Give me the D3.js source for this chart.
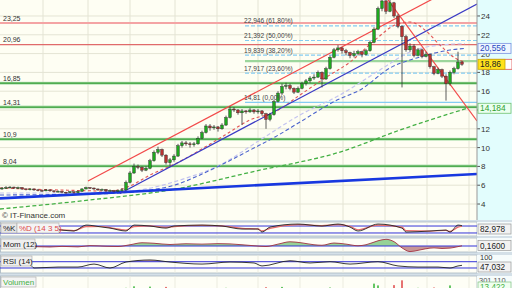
<!DOCTYPE html>
<html>
<head>
<meta charset="utf-8">
<script src="https://cdn.jsdelivr.net/npm/d3@7"></script>
<style>
  body { margin: 0; background: #fff; }
  svg { display: block; font-family: "Liberation Sans", Arial, sans-serif; }
</style>
</head>
<body>
<svg width="512" height="288"></svg>
<script>
// daily candles [open, high, low, close]
const candles = [
  [5.6,5.8,5.5,5.7],[5.7,5.9,5.6,5.75],[5.75,5.9,5.65,5.8],[5.8,5.85,5.6,5.7],[5.7,5.85,5.6,5.75],
  [5.75,5.8,5.5,5.6],[5.6,5.7,5.45,5.55],[5.55,5.7,5.45,5.6],[5.6,5.65,5.4,5.5],[5.5,5.6,5.35,5.45],
  [5.45,5.55,5.3,5.4],[5.4,5.6,5.35,5.5],[5.5,5.55,5.3,5.4],[5.4,5.45,5.2,5.3],[5.3,5.45,5.25,5.35],
  [5.35,5.4,5.15,5.25],[5.25,5.3,5.1,5.2],[5.2,5.4,5.15,5.3],[5.3,5.35,5.1,5.2],[5.2,5.45,5.15,5.35],
  [5.35,5.7,5.3,5.6],[5.6,5.85,5.55,5.75],[5.75,5.8,5.6,5.7],[5.7,5.75,5.5,5.6],[5.6,5.65,5.4,5.5],
  [5.5,5.65,5.45,5.55],[5.55,5.6,5.3,5.4],[5.4,5.55,5.35,5.45],[5.45,5.5,5.25,5.35],[5.35,5.55,5.3,5.45],
  [5.45,5.7,5.35,5.5],[5.5,6.5,5.45,6.3],[6.3,7.5,6.2,7.3],[7.3,8.3,7.2,8.0],[8.0,8.2,7.7,7.9],
  [7.9,8.0,7.4,7.6],[7.6,8.0,7.5,7.8],[7.8,8.8,7.7,8.6],[8.6,9.7,8.5,9.5],[9.5,10.1,9.3,9.8],
  [9.8,9.9,9.0,9.2],[9.2,9.3,8.2,8.4],[8.4,8.9,8.0,8.7],[8.7,9.3,8.5,9.1],[9.1,10.4,9.0,10.2],
  [10.2,10.7,10.0,10.5],[10.5,10.7,10.2,10.4],[10.4,10.6,10.0,10.3],[10.3,10.6,10.1,10.4],[10.4,11.2,10.3,11.0],
  [11.0,11.8,10.9,11.6],[11.6,12.5,11.5,12.3],[12.3,12.5,11.8,12.1],[12.1,12.4,11.9,12.2],[12.2,12.3,11.7,12.0],
  [12.0,12.6,11.9,12.4],[12.4,13.4,12.3,13.2],[13.2,14.4,13.1,14.1],[14.1,14.3,13.8,14.0],[14.0,14.1,13.5,13.7],
  [13.7,14.1,12.4,13.9],[13.9,14.0,13.6,13.8],[13.8,14.2,13.7,14.0],[14.0,14.1,13.6,13.8],[13.8,14.1,13.6,13.9],
  [13.9,14.0,13.4,13.6],[13.6,13.7,12.0,13.0],[13.0,13.7,12.8,13.5],[13.5,15.1,13.4,14.9],[14.9,16.0,14.8,15.8],
  [15.8,16.8,15.6,16.5],[16.5,16.9,16.2,16.6],[16.6,16.8,16.1,16.3],[16.3,16.4,15.7,15.9],[15.9,16.5,15.8,16.3],
  [16.3,17.0,16.2,16.8],[16.8,17.3,16.6,17.1],[17.1,17.6,16.9,17.4],[17.4,17.8,17.2,17.5],[17.5,18.2,17.4,18.0],
  [18.0,18.1,16.4,17.3],[17.3,18.6,17.2,18.4],[18.4,19.8,18.3,19.6],[19.6,20.6,19.5,20.4],[20.4,20.9,20.2,20.6],
  [20.6,20.7,20.0,20.3],[20.3,20.5,19.8,20.1],[20.1,20.2,19.5,19.8],[19.8,20.3,19.6,20.0],[20.0,20.4,19.8,20.2],
  [20.2,20.3,19.6,19.9],[19.9,20.5,19.8,20.3],[20.3,21.4,20.2,21.2],[21.2,22.8,21.1,22.6],[22.6,25.0,22.5,24.8],
  [24.8,25.9,24.5,25.6],[25.6,25.7,24.2,24.5],[24.5,25.8,24.4,25.4],[25.4,25.5,23.8,24.0],[24.0,24.2,22.7,22.9],
  [22.9,23.0,16.4,21.8],[21.8,22.0,20.2,20.4],[20.4,21.1,20.2,20.8],[20.8,21.0,19.6,19.8],[19.8,20.6,19.7,20.4],
  [20.4,20.5,19.5,19.7],[19.7,20.2,19.6,19.9],[19.9,20.0,18.4,18.6],[18.6,18.7,17.7,17.9],[17.9,18.5,17.8,18.3],
  [18.3,18.4,17.4,17.6],[17.6,17.8,15.0,16.8],[16.8,18.2,16.6,18.0],[18.0,18.6,17.8,18.4],[18.4,20.2,18.3,19.1],
  [19.1,19.2,18.7,18.86]
];

// moving averages [index, price]
const maShort = [[-0.5,5.7],[14.5,5.49],[27,5.38],[32,5.91],[37,7.09],[43.25,8.26],[49.5,9.74],[55.75,11.34],
  [62,12.94],[68.25,13.79],[74.5,15.6],[80.75,17.4],[87,19.1],[93.25,21.45],[98.25,23.04],[102,23.36],
  [105.75,22.5],[109.5,20.9],[113.25,19.53],[115.75,19.1]];
const maMid = [[-0.5,4.96],[22,5.06],[29.5,5.17],[37,5.49],[43.25,6.02],[49.5,7.09],[55.75,8.36],[62,9.74],
  [68.25,11.13],[74.5,12.72],[83.75,15.06],[89.5,16.13],[97,18.47],[104.5,19.64],[112,20.38],[115.75,20.556]];
const maLav = [[-0.5,5.17],[24.5,5.17],[34.5,5.49],[44.5,6.55],[54.5,8.15],[64.5,10.81],[74.5,13.47],
  [84.5,15.6],[94.5,18.26],[102,20.17],[109.5,20.91],[115.75,21.05]];
const maLong = [[-0.5,3.47],[22,4.43],[42,5.49],[63.5,7.51],[84.5,9.53],[99.5,11.87],[116.25,14.184]];

// trend lines [[i0,p0],[i1,p1]]
const channelTop = [[21.5,6.45],[118.75,28.3]];
const channelBottom = [[29.5,5.12],[118.75,25.28]];
const downTrend = [[95,26.57],[118.75,12.83]];
const longTrend = [[-0.5,4.6],[118.75,7.19]];

const redLevels = [23.25, 20.96];
const greenLevels = [16.85, 14.31, 10.9, 8.04];
const fibLevels = [22.946, 21.392, 19.839, 17.917, 14.81];
const fibPct = ["61,80%", "50,00%", "38,20%", "23,60%", "0,00%"];
const fibStart = 60.75;
const minorGreen = 19.2;
const priceTicks = [4, 6, 8, 10, 12, 14, 16, 18, 20, 22, 24];

const stochK = [[0,62],[5,71],[10,54],[15,45],[18,37],[21,88],[25,71],[27,62],[31,37],[33,88],[37,80],[41,62],
  [43,80],[50,88],[55,80],[60,54],[64,54],[65,28],[67,71],[74,97],[80,80],[84,97],[87,71],[89,37],[94,97],
  [100,62],[101,28],[107,37],[111,45],[112,28],[114,88],[115,83]];
const stochD = [[0,60],[5,68],[10,58],[15,47],[18,40],[21,75],[25,76],[27,66],[31,45],[33,75],[37,82],[41,68],
  [43,75],[50,85],[55,82],[60,60],[64,55],[65,38],[67,60],[74,92],[80,84],[84,92],[87,78],[89,48],[94,88],
  [100,70],[101,40],[107,36],[111,42],[112,33],[114,70],[115,78]];
const mom = [[0,-0.2],[8,-0.5],[12,-0.8],[15,-0.3],[19,-0.7],[22,0.3],[26,-0.2],[29,-0.4],[32,1.0],[35,2.6],
  [38,2.2],[42,1.2],[46,1.8],[50,1.5],[54,1.9],[57,1.7],[60,1.0],[63,0.2],[66,-0.4],[69,1.5],[72,3.4],[75,2.5],
  [78,1.0],[80,0.6],[83,2.4],[86,1.5],[89,0.2],[91,1.0],[94,4.2],[96,5.4],[98,3.5],[100,-1.5],[102,-4.5],
  [104,-3.5],[106,-2.2],[108,-1.5],[110,-2.0],[112,-1.7],[114,-0.5],[115,0.16]];
const rsi = [[0,49],[7,49],[8,30],[14,36],[19,36],[23,55],[27,30],[31,68],[37,81],[42,68],[50,55],[57,68],
  [63,62],[65,43],[72,76],[77,62],[82,70],[87,55],[94,70],[99,43],[104,36],[109,36],[112,30],[114,43],[115,47]];
const volume = [[20,20000],[31,40000],[33,90000],[37,80000],[41,70000],[49,30000],[56,40000],[66,60000],
  [70,70000],[82,50000],[93,180000],[94,120000],[98,130000],[100,290000],[104,40000],[108,50000],[112,120000],[115,13422]];

const svg = d3.select("svg");
const W = 512, R = 477;
const comma = v => String(v).replace(".", ",");

const x = d3.scaleLinear().domain([0, 115]).range([2, 462]);
const y = d3.scaleLinear().domain([2.3, 25.7]).range([220, 0]);
const gridX = [43, 88, 130, 175, 217, 258, 300, 343, 385, 427, 469].map(v => x.invert(v));

// backgrounds
svg.append("rect").attr("width", W).attr("height", 288).attr("fill", "#d4e0e8");
svg.append("rect").attr("x", 0).attr("y", 0).attr("width", R).attr("height", 220).attr("fill", "#fefef3");
svg.append("rect").attr("x", R).attr("y", 0).attr("width", W - R).attr("height", 220).attr("fill", "#e2fdfd");

const defs = svg.append("defs");
defs.append("clipPath").attr("id", "main").append("rect").attr("width", R).attr("height", 220);

const main = svg.append("g").attr("clip-path", "url(#main)");

main.selectAll(".gx").data(gridX).enter().append("line")
  .attr("x1", d => x(d)).attr("x2", d => x(d)).attr("y1", 0).attr("y2", 220)
  .attr("stroke", "#e4e4d4");
main.selectAll(".gy").data(priceTicks).enter().append("line")
  .attr("x1", 0).attr("x2", R).attr("y1", d => y(d)).attr("y2", d => y(d))
  .attr("stroke", "#e4e4d4");

// horizontal levels
main.append("line").attr("x1", 0).attr("x2", R).attr("y1", y(redLevels[0])).attr("y2", y(redLevels[0]))
  .attr("stroke", "#f4a4a4").attr("stroke-width", 2);
main.append("line").attr("x1", 0).attr("x2", R).attr("y1", y(redLevels[1])).attr("y2", y(redLevels[1]))
  .attr("stroke", "#e06a6a").attr("stroke-width", 1.2);
main.selectAll(".gl").data(greenLevels).enter().append("line")
  .attr("x1", 0).attr("x2", R).attr("y1", d => y(d)).attr("y2", d => y(d))
  .attr("stroke", "#b8e4b8").attr("stroke-width", 3);
main.selectAll(".gl2").data(greenLevels).enter().append("line")
  .attr("x1", 0).attr("x2", R).attr("y1", d => y(d)).attr("y2", d => y(d))
  .attr("stroke", "#2f9a2f").attr("stroke-width", 1.2);
main.append("line").attr("x1", x(fibStart)).attr("x2", R).attr("y1", y(minorGreen)).attr("y2", y(minorGreen))
  .attr("stroke", "#9cd69c").attr("stroke-width", 2.2);

main.selectAll(".fib").data(fibLevels).enter().append("line")
  .attr("x1", x(fibStart)).attr("x2", R).attr("y1", d => y(d)).attr("y2", d => y(d))
  .attr("stroke", "#84ccf2").attr("stroke-width", 1.1)
  .attr("stroke-dasharray", (d, i) => i === fibLevels.length - 1 ? null : "4,2");

// moving averages
const line = d3.line().x(d => x(d[0])).y(d => y(d[1])).curve(d3.curveMonotoneX);
main.append("path").attr("d", line(maLong)).attr("fill", "none")
  .attr("stroke", "#44b044").attr("stroke-width", 1.3).attr("stroke-dasharray", "4,2.5");
main.append("path").attr("d", line(maLav)).attr("fill", "none")
  .attr("stroke", "#c4c4f0").attr("stroke-width", 1.2).attr("stroke-dasharray", "4,2.5");
main.append("path").attr("d", line(maMid)).attr("fill", "none")
  .attr("stroke", "#4a62cc").attr("stroke-width", 1.1).attr("stroke-dasharray", "4,2.5");
main.append("path").attr("d", line(maShort)).attr("fill", "none")
  .attr("stroke", "#e25656").attr("stroke-width", 1.1).attr("stroke-dasharray", "3,2.5");

// trend lines
const straight = d3.line().x(d => x(d[0])).y(d => y(d[1]));
main.append("path").attr("d", straight(longTrend)).attr("stroke", "#1838e0").attr("stroke-width", 2.6).attr("fill", "none");
main.append("path").attr("d", straight(channelBottom)).attr("stroke", "#3a3ac4").attr("stroke-width", 1.2).attr("fill", "none");
main.append("path").attr("d", straight(channelTop)).attr("stroke", "#f24a4a").attr("stroke-width", 1.2).attr("fill", "none");
main.append("path").attr("d", straight(downTrend)).attr("stroke", "#f24a4a").attr("stroke-width", 1.2).attr("fill", "none");

// candles
const cg = main.append("g");
cg.selectAll(".wick").data(candles).enter().append("line")
  .attr("x1", (d, i) => x(i)).attr("x2", (d, i) => x(i))
  .attr("y1", d => y(d[1])).attr("y2", d => y(d[2]))
  .attr("stroke", "#333").attr("stroke-width", 0.8);
cg.selectAll(".body").data(candles).enter().append("rect")
  .attr("x", (d, i) => x(i) - 1.4).attr("width", 2.8)
  .attr("y", d => y(Math.max(d[0], d[3])))
  .attr("height", d => Math.max(0.8, Math.abs(y(d[0]) - y(d[3]))))
  .attr("fill", d => d[3] >= d[0] ? "#1ea81e" : "#b83232")
  .attr("stroke", "#2a2a2a").attr("stroke-width", 0.4);

// text labels
const lvlText = redLevels.concat(greenLevels);
main.selectAll(".lt").data(lvlText).enter().append("text")
  .attr("x", 3).attr("y", d => y(d) - 2.5).attr("font-size", 7).attr("fill", "#333")
  .text(d => comma(d));
main.selectAll(".ft").data(fibLevels).enter().append("text")
  .attr("x", x(fibStart) - 1).attr("y", d => y(d) - 2.5).attr("font-size", 6.6).attr("fill", "#444")
  .text((d, i) => comma(d) + " (" + fibPct[i] + ")");
main.append("text").attr("x", 2).attr("y", 218).attr("font-size", 8).attr("fill", "#333")
  .text("© IT-Finance.com");

// right axis
svg.selectAll(".tk").data(priceTicks).enter().append("line")
  .attr("x1", R).attr("x2", R + 3).attr("y1", d => y(d)).attr("y2", d => y(d)).attr("stroke", "#555");
svg.selectAll(".tl").data(priceTicks).enter().append("text")
  .attr("x", R + 4).attr("y", d => y(d) + 3).attr("font-size", 8).attr("fill", "#333")
  .text(d => d);
svg.append("line").attr("x1", R).attr("x2", R).attr("y1", 0).attr("y2", 220).attr("stroke", "#999");

function valueBox(v, txt, fill, stroke, color, w, dx) {
  const g = svg.append("g").attr("transform", `translate(${R + 1 + (dx || 0)},${y(v) - 5})`);
  g.append("rect").attr("width", w).attr("height", 10).attr("fill", fill).attr("stroke", stroke).attr("stroke-width", 0.8);
  g.append("text").attr("x", 2).attr("y", 8).attr("font-size", 8.4).attr("fill", color).text(txt);
}
valueBox(20.556, "20,556", "#eef6ff", "#7c92e0", "#2848c0", 33);
valueBox(18.86, "18,90", "#fff", "#e05050", "#e05050", 30, 4);
valueBox(18.86, "18,86", "#ffe21a", "#c8a800", "#222", 27);
valueBox(14.184, "14,184", "#eafff0", "#70c070", "#2f9f2f", 33);

// ---- indicator panels ----
const px = d => x(d[0]);
function panel(top, bottom) {
  svg.append("rect").attr("x", 0.5).attr("y", top).attr("width", R - 0.5).attr("height", bottom - top)
    .attr("fill", "#fefef6").attr("stroke", "#aab8c4").attr("stroke-width", 0.8);
  svg.append("rect").attr("x", R).attr("y", top).attr("width", W - R).attr("height", bottom - top)
    .attr("fill", "#f6fcfc");
  svg.selectAll(null).data(gridX).enter().append("line")
    .attr("x1", d => x(d)).attr("x2", d => x(d)).attr("y1", top + 0.5).attr("y2", bottom - 0.5)
    .attr("stroke", "#ecece0");
}
function tag(yTop, parts) {
  let xx = 1;
  parts.forEach(p => {
    svg.append("rect").attr("x", xx).attr("y", yTop).attr("width", p.w).attr("height", 10)
      .attr("fill", p.bg).attr("stroke", "#a8a8a8").attr("stroke-width", 0.6);
    svg.append("text").attr("x", xx + 2).attr("y", yTop + 8).attr("font-size", 8).attr("fill", p.c).text(p.t);
    xx += p.w;
  });
}
function rightBox(yc, txt, color) {
  svg.append("rect").attr("x", R + 1).attr("y", yc - 5).attr("width", 33).attr("height", 10)
    .attr("fill", "#f2f2f2").attr("stroke", "#9a9a9a").attr("stroke-width", 0.7);
  svg.append("text").attr("x", R + 3).attr("y", yc + 3).attr("font-size", 8.2).attr("fill", color).text(txt);
}

// stochastic
panel(222, 236);
const ys = d3.scaleLinear().domain([0, 100]).range([235.3, 223.7]);
[80, 20].forEach(v => svg.append("line").attr("x1", 0).attr("x2", R).attr("y1", ys(v)).attr("y2", ys(v))
  .attr("stroke", "#3434d8").attr("stroke-width", 1));
const ls = d3.line().x(px).y(d => ys(d[1])).curve(d3.curveMonotoneX);
svg.append("path").attr("d", ls(stochD)).attr("fill", "none").attr("stroke", "#e86a6a").attr("stroke-width", 1.2);
svg.append("path").attr("d", ls(stochK)).attr("fill", "none").attr("stroke", "#222").attr("stroke-width", 0.9);
tag(223, [{t: "%K", w: 16, bg: "#e6e6e6", c: "#222"}, {t: "%D (14 3 5)", w: 42, bg: "#f4f4f4", c: "#e04848"}]);
rightBox(229, "82,978", "#222");

// momentum
panel(238, 252);
const ym = d3.scaleLinear().domain([-5, 5]).range([252.2, 239.8]);
defs.append("clipPath").attr("id", "mUp").append("rect").attr("x", 0).attr("y", 238).attr("width", R).attr("height", ym(0) - 238);
defs.append("clipPath").attr("id", "mDn").append("rect").attr("x", 0).attr("y", ym(0)).attr("width", R).attr("height", 252 - ym(0));
const am = d3.area().x(px).y0(ym(0)).y1(d => ym(d[1])).curve(d3.curveMonotoneX);
svg.append("path").attr("d", am(mom)).attr("fill", "#96d296").attr("clip-path", "url(#mUp)");
svg.append("path").attr("d", am(mom)).attr("fill", "#c89696").attr("clip-path", "url(#mDn)");
svg.append("line").attr("x1", 0).attr("x2", R).attr("y1", ym(0)).attr("y2", ym(0)).attr("stroke", "#3434d8");
svg.append("path").attr("d", d3.line().x(px).y(d => ym(d[1])).curve(d3.curveMonotoneX)(mom))
  .attr("fill", "none").attr("stroke", "#a03040").attr("stroke-width", 0.9);
tag(239, [{t: "Mom (12)", w: 34, bg: "#efefef", c: "#222"}]);
rightBox(245.5, "0,1600", "#222");

// RSI
panel(255, 273);
const yr = d3.scaleLinear().domain([0, 100]).range([272.7, 257]);
defs.append("clipPath").attr("id", "rUp").append("rect").attr("x", 0).attr("y", 255).attr("width", R).attr("height", yr(70) - 255);
const ar = d3.area().x(px).y0(yr(70)).y1(d => yr(d[1])).curve(d3.curveMonotoneX);
svg.append("path").attr("d", ar(rsi)).attr("fill", "#d8a0a0").attr("clip-path", "url(#rUp)");
[70, 30].forEach(v => svg.append("line").attr("x1", 0).attr("x2", R).attr("y1", yr(v)).attr("y2", yr(v))
  .attr("stroke", "#3434d8").attr("stroke-width", 1));
svg.append("path").attr("d", d3.line().x(px).y(d => yr(d[1])).curve(d3.curveMonotoneX)(rsi))
  .attr("fill", "none").attr("stroke", "#222").attr("stroke-width", 0.9);
tag(256, [{t: "RSI (14)", w: 31, bg: "#efefef", c: "#222"}]);
svg.append("text").attr("x", R + 3).attr("y", 260).attr("font-size", 7.5).attr("fill", "#333").text("100");
rightBox(267, "47,032", "#222");

// volume
panel(276, 292);
const yv = d3.scaleLinear().domain([0, 301110]).range([289, 280]);
svg.selectAll(".vb").data(volume).enter().append("rect")
  .attr("x", d => x(d[0]) - 0.8).attr("width", 1.6)
  .attr("y", d => yv(d[1])).attr("height", d => yv(0) - yv(d[1]))
  .attr("fill", d => candles[d[0]][3] >= candles[d[0]][0] ? "#40b840" : "#e05050");
tag(277, [{t: "Volumen", w: 35, bg: "#f4f4f4", c: "#44b044"}]);
svg.append("text").attr("x", R + 2).attr("y", 283).attr("font-size", 7.5).attr("fill", "#555").text("301.110");
svg.append("rect").attr("x", R + 1).attr("y", 282).attr("width", 33).attr("height", 10)
  .attr("fill", "#f0fff0").attr("stroke", "#80c080").attr("stroke-width", 0.7);
svg.append("text").attr("x", R + 3).attr("y", 290).attr("font-size", 8.2).attr("fill", "#44b044").text("13.422");
</script>
</body>
</html>
